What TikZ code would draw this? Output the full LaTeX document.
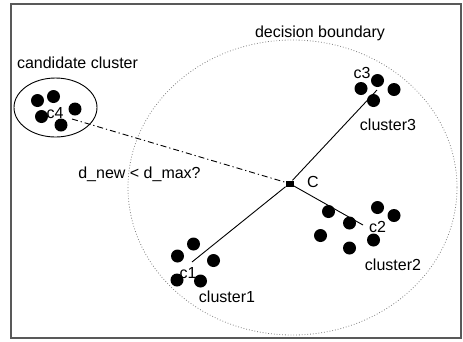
\documentclass[tikz,border=0pt]{standalone}
\usepackage{fontspec}
\setmainfont{Liberation Sans}
\begin{document}
\begin{tikzpicture}[x=1pt,y=-1pt,
  dot/.style={circle,fill=black,minimum size=13pt,inner sep=0pt},
  lbl/.style={inner sep=0pt,font=\fontsize{16}{18}\selectfont},
  link/.style={line width=0.9pt},
  dashdot/.style={line width=0.9pt,dash pattern=on 6pt off 3pt on 1.2pt off 3pt}]
\useasboundingbox (0,0) rectangle (463,341);
\draw[gray!70!black,line width=1.2pt] (11,4) rectangle (461,338);
% decision boundary
\draw[gray,dotted,line width=0.8pt] (292.5,187.5) ellipse [x radius=164.5,y radius=147.5];
% candidate cluster
\draw[line width=0.9pt] (55.5,107.5) ellipse [x radius=41.5,y radius=29.5];
% dots candidate
\node[dot] (d41) at (37.5,100.5) {};
\node[dot] (d42) at (53.5,96.5) {};
\node[dot] (d43) at (75,109) {};
\node[dot] (d44) at (41.5,116.5) {};
\node[dot] (d45) at (61,125) {};
% cluster3
\node[dot] (d31) at (361,88.5) {};
\node[dot] (d32) at (377.5,80.5) {};
\node[dot] (d33) at (394,89.5) {};
\node[dot] (d34) at (373.5,100.5) {};
% cluster2
\node[dot] (d21) at (328.5,211.5) {};
\node[dot] (d22) at (349.5,223) {};
\node[dot] (d23) at (377.5,207.5) {};
\node[dot] (d24) at (394,215.5) {};
\node[dot] (d25) at (320.5,235.5) {};
\node[dot] (d26) at (373.5,240) {};
\node[dot] (d27) at (349.5,248) {};
% cluster1
\node[dot] (d11) at (193.5,244) {};
\node[dot] (d12) at (177.5,256) {};
\node[dot] (d13) at (213.5,260.5) {};
\node[dot] (d14) at (177,280) {};
\node[dot] (d15) at (200.5,281) {};
% centres
\coordinate (c1) at (192,262);
\coordinate (c2) at (363,225);
\coordinate (c3) at (377,90);
\coordinate (c4) at (72,119);
\node[fill=black,minimum width=8pt,minimum height=6pt,inner sep=0pt] (C) at (289.5,183.5) {};
% connectors
\draw[link] (C) -- (c1);
\draw[link] (C) -- (c2);
\draw[link] (C) -- (c3);
\draw[dashdot] (c4) -- (C);
% labels
\node[lbl] (lcand) at (77.5,63) {candidate cluster};
\node[lbl] (ldec) at (320,33) {decision boundary};
\node[lbl] (lc4) at (55,113) {c4};
\node[lbl] (lc3) at (362,73) {c3};
\node[lbl] (lc2) at (377.5,227) {c2};
\node[lbl] (lc1) at (188,273) {c1};
\node[lbl] (lC) at (313,182) {C};
\node[lbl] (lcl3) at (388,125) {cluster3};
\node[lbl] (lcl2) at (393,265) {cluster2};
\node[lbl] (lcl1) at (227,296.5) {cluster1};
\node[lbl] (lq) at (139.5,174) {d\_new < d\_max?};
\end{tikzpicture}
\end{document}
